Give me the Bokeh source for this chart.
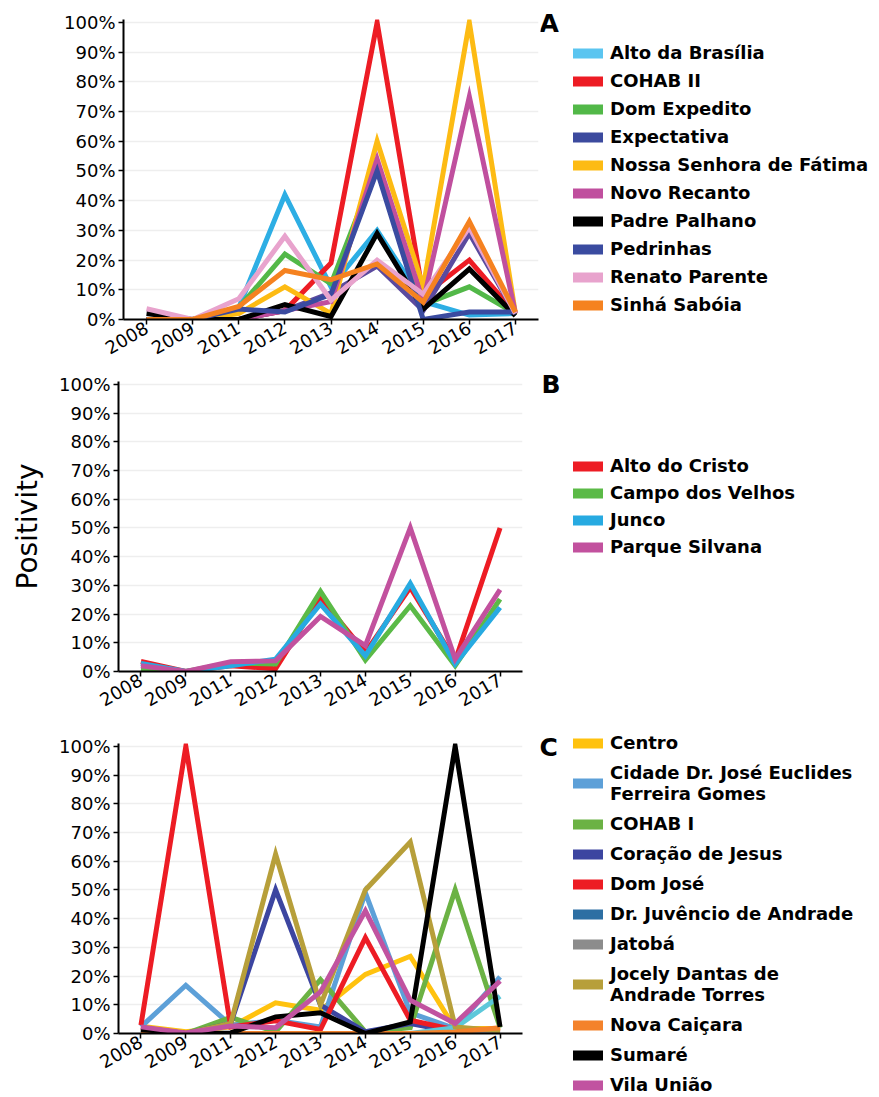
import math
from bokeh.plotting import figure
from bokeh.models import (FactorRange, Range1d, Legend, LegendItem, Label,
                          FixedTicker, PrintfTickFormatter)
from bokeh.layouts import column, row
from bokeh.embed import file_html
from bokeh.resources import INLINE

years = ["2008", "2009", "2011", "2012", "2013", "2014", "2015", "2016", "2017"]
y_ticks = [0, 10, 20, 30, 40, 50, 60, 70, 80, 90, 100]

# ---------------- Panel A ----------------
a_names = ["Alto da Brasília", "COHAB II", "Dom Expedito", "Expectativa",
           "Nossa Senhora de Fátima", "Novo Recanto", "Padre Palhano",
           "Pedrinhas", "Renato Parente", "Sinhá Sabóia"]
a_colors = ["#2DAEE4", "#ED1C24", "#52B848", "#5B4A9E", "#FDBB13",
            "#C04F9E", "#000000", "#3A4BA0", "#E8A3CD", "#F58220"]
a_legend_colors = ["#5BC5F0", "#ED1C24", "#52B848", "#3C4A9E", "#FDBB13",
                   "#C04F9E", "#000000", "#3A4BA0", "#E8A3CD", "#F58220"]
a_alto_brasilia = [0, 0, 4, 42, 11, 30, 6, 1.5, 2]
a_cohab_ii = [0, 0, 0, 3, 19, 100, 8, 20, 2]
a_dom_expedito = [0, 0, 4, 22, 12, 52, 5, 11, 2]
a_expectativa = [0, 0, 0, 3, 9, 18, 3, 29, 2]
a_nossa_senhora = [0, 0, 2, 11, 2, 60, 11, 100, 2]
a_novo_recanto = [0, 0, 0, 3, 6, 54, 6, 75, 2]
a_padre_palhano = [2, 0, 0, 5, 1, 29, 3.5, 17, 1.3]
a_pedrinhas = [0, 0, 3.5, 2.5, 8.5, 50, 0, 2.5, 2.5]
a_renato_parente = [3.6, 0, 7, 28, 6.5, 20, 8.5, 31, 2]
a_sinha_saboia = [0, 0, 4.4, 16.5, 13.4, 18.7, 5.8, 33, 2.5]
a_series = [a_alto_brasilia, a_cohab_ii, a_dom_expedito, a_expectativa,
            a_nossa_senhora, a_novo_recanto, a_padre_palhano, a_pedrinhas,
            a_renato_parente, a_sinha_saboia]

# ---------------- Panel B ----------------
b_names = ["Alto do Cristo", "Campo dos Velhos", "Junco", "Parque Silvana"]
b_colors = ["#ED1C24", "#5BBA47", "#27AAE1", "#C2519E"]
b_alto_cristo = [3.5, 0, 2, 1, 25.8, 6.6, 29.3, 3.7, 50]
b_campo_velhos = [0.8, 0, 3, 2.6, 27.9, 4, 22.9, 2, 25.2]
b_junco = [2.8, 0, 2, 4.3, 23.5, 5.5, 30.7, 2.6, 22.3]
b_parque_silvana = [2, 0, 3.4, 3.7, 19.2, 9, 50, 4.3, 28.5]
b_series = [b_alto_cristo, b_campo_velhos, b_junco, b_parque_silvana]

# ---------------- Panel C ----------------
c_names = ["Centro", "Cidade Dr. José Euclides\nFerreira Gomes", "COHAB I",
           "Coração de Jesus", "Dom José", "Dr. Juvêncio de Andrade", "Jatobá",
           "Jocely Dantas de\nAndrade Torres", "Nova Caiçara", "Sumaré",
           "Vila União"]
c_colors = ["#FFC20E", "#5DA0D8", "#6BB244", "#3C45A0", "#ED1C24",
            "#5CC8DA", "#8C8C8C", "#B79F3A", "#F4822B", "#000000", "#C153A0"]
c_legend_colors = ["#FFC20E", "#5DA0D8", "#6BB244", "#3C45A0", "#ED1C24",
                   "#2D6FA3", "#8C8C8C", "#B79F3A", "#F4822B", "#000000", "#C153A0"]
c_centro = [2.5, 0.6, 2.3, 10.7, 8.1, 20.6, 26.9, 1.7, 1.7]
c_cidade = [2.3, 16.8, 2.9, 4.6, 2.3, 49, 7.2, 1.7, 19.7]
c_cohab_i = [0.6, 0, 5.6, 0.6, 18.8, 0.6, 2, 50, 2]
c_coracao = [2, 0, 3.5, 50, 9.9, 0.6, 3.5, 0.5, 0.5]
c_dom_jose = [2.9, 100, 2.3, 4.4, 1.4, 33.4, 4.6, 1.2, 1]
c_dr_juvencio = [0, 0, 0, 0, 0, 0, 0, 2, 13]
c_jatoba = [0, 0, 0, 0, 0, 0, 0, 0, 0]
c_jocely = [2, 0, 3.5, 62.4, 9.9, 50, 66.7, 2.3, 1]
c_nova_caicara = [0, 0, 0, 0, 0, 0, 0, 0.5, 2]
c_sumare = [1.4, 0, 0.2, 5.8, 7.2, 0, 4, 100, 2.3]
c_vila_uniao = [2.3, 0.2, 2.6, 2, 14.5, 42.7, 11.6, 3.5, 18.3]
c_series = [c_centro, c_cidade, c_cohab_i, c_coracao, c_dom_jose,
            c_dr_juvencio, c_jatoba, c_jocely, c_nova_caicara, c_sumare,
            c_vila_uniao]

FONT = "DejaVu Sans"


def make_panel(names, colors, legend_colors, series, height, left, frame_w,
               top, bottom, leg_w, letter, letter_xy, legend_xy, spacing,
               ylabel=None):
    p = figure(x_range=FactorRange(*years), y_range=Range1d(0, 101),
               width=left + frame_w + 2, height=height, output_backend="svg",
               toolbar_location=None, min_border_left=left,
               min_border_right=2, min_border_top=top,
               min_border_bottom=bottom)
    p.frame_align = False
    p.outline_line_color = None
    p.xgrid.visible = False
    p.ygrid.grid_line_color = "#EEEEEE"
    p.ygrid.grid_line_width = 1.5
    p.yaxis.ticker = FixedTicker(ticks=y_ticks)
    p.yaxis.formatter = PrintfTickFormatter(format="%d%%")
    for ax in (p.xaxis, p.yaxis):
        ax.axis_line_width = 2
        ax.axis_line_color = "black"
        ax.major_tick_line_color = "black"
        ax.major_tick_line_width = 1.5
        ax.major_tick_in = 0
        ax.major_tick_out = 5
        ax.minor_tick_line_color = None
        ax.major_label_text_font = FONT
        ax.major_label_text_font_size = "18px"
        ax.major_label_text_color = "black"
    p.yaxis.major_label_standoff = 3
    p.xaxis.major_label_standoff = 2
    p.xaxis.major_label_orientation = math.pi / 6
    if ylabel:
        p.yaxis.axis_label = ylabel
        p.yaxis.axis_label_text_font = FONT
        p.yaxis.axis_label_text_font_style = "normal"
        p.yaxis.axis_label_text_font_size = "28px"
        p.yaxis.axis_label_text_color = "black"
        p.yaxis.axis_label_standoff = 12

    for col, vals in zip(colors, series):
        p.line(x=years, y=vals, line_color=col, line_width=5,
               line_join="miter", line_cap="butt")

    # legend panel (a blank figure that only holds the legend and the letter)
    lg = figure(width=leg_w, height=height, output_backend="svg",
                toolbar_location=None, x_range=Range1d(0, 1),
                y_range=Range1d(0, 1), x_axis_location=None,
                y_axis_location=None, min_border=0)
    lg.frame_align = False
    lg.outline_line_color = None
    lg.grid.visible = False
    items = []
    for name, lcol in zip(names, legend_colors):
        # single off-range point: draws nothing, only supplies the legend swatch
        dummy = lg.line(x=[-1], y=[-1], line_color=lcol, line_width=10,
                        line_cap="round")
        items.append(LegendItem(label=name, renderers=[dummy]))
    legend = Legend(items=items, location=legend_xy)
    legend.background_fill_alpha = 0
    legend.border_line_color = None
    legend.label_text_font = FONT
    legend.label_text_font_style = "bold"
    legend.label_text_font_size = "18px"
    legend.label_text_color = "black"
    legend.glyph_width = 30
    legend.glyph_height = 20
    legend.label_height = 20
    legend.label_standoff = 7
    legend.spacing = spacing
    legend.padding = 0
    legend.margin = 0
    lg.add_layout(legend)
    lg.add_layout(Label(x=letter_xy[0], y=letter_xy[1], x_units="screen",
                        y_units="screen", text=letter, text_font=FONT,
                        text_font_style="bold", text_font_size="25px",
                        text_color="black", text_baseline="alphabetic"))
    return row(p, lg, spacing=0)


pa = make_panel(a_names, a_colors, a_legend_colors, a_series, height=367,
                left=123, frame_w=415, top=19, bottom=48, leg_w=335,
                letter="A", letter_xy=(-1, 344), legend_xy=(33, 52), spacing=7)
pb = make_panel(b_names, b_colors, b_colors, b_series, height=359,
                left=118, frame_w=404, top=14, bottom=55, leg_w=350,
                letter="B", letter_xy=(17, 342), legend_xy=(49, 169),
                spacing=6, ylabel="Positivity")
pc = make_panel(c_names, c_colors, c_legend_colors, c_series, height=369,
                left=118, frame_w=404, top=17, bottom=62, leg_w=350,
                letter="C", letter_xy=(15, 348), legend_xy=(49, 0), spacing=9)

layout = column(pa, pb, pc, spacing=0)
open("out.html", "w").write(file_html(layout, INLINE))
